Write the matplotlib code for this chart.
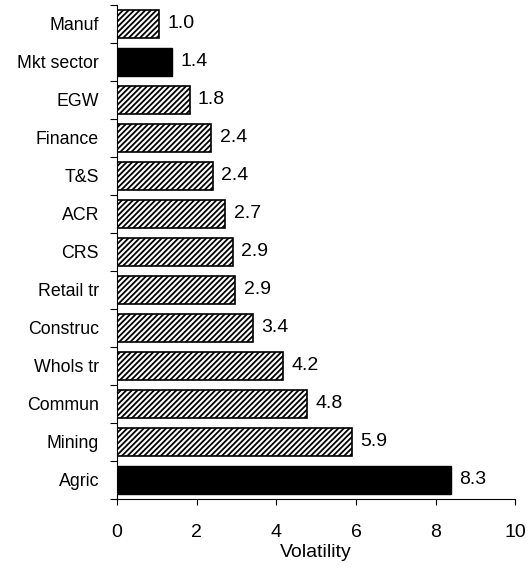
import numpy as np
import matplotlib
matplotlib.use("Agg")
import matplotlib.pyplot as plt

plt.rcParams['font.family'] = ['Liberation Sans', 'DejaVu Sans']
plt.rcParams['hatch.linewidth'] = 1.3

sectors = ['Manuf', 'Mkt sector', 'EGW', 'Finance', 'T&S', 'ACR', 'CRS',
           'Retail tr', 'Construc', 'Whols tr', 'Commun', 'Mining', 'Agric']
volatility = [1.05, 1.38, 1.82, 2.37, 2.41, 2.72, 2.91, 2.97, 3.41, 4.17, 4.77, 5.91, 8.38]
value_labels = ['1.0', '1.4', '1.8', '2.4', '2.4', '2.7', '2.9',
                '2.9', '3.4', '4.2', '4.8', '5.9', '8.3']
solid = ['Mkt sector', 'Agric']

fig = plt.figure(figsize=(5.3, 5.68), dpi=100)
ax = fig.add_axes([0.221, 0.1215, 0.751, 0.870])

y = np.arange(len(sectors))
for i, (name, v) in enumerate(zip(sectors, volatility)):
    if name in solid:
        ax.barh(i, v, height=0.73, color='black', edgecolor='black', linewidth=1)
    else:
        ax.barh(i, v, height=0.73, color='white', edgecolor='black',
                hatch='//////', linewidth=1.2)
    ax.annotate(value_labels[i], (v, i), xytext=(6, 0), textcoords='offset points',
                va='center', ha='left', fontsize=14)

ax.set_ylim(len(sectors) - 0.5, -0.5)
ax.set_xlim(0, 10)
ax.set_xticks(np.arange(0, 11, 2))
ax.tick_params(axis='x', direction='out', length=4, labelsize=14, pad=14)

# tick marks between categories, labels at centres
ax.set_yticks(np.arange(-0.5, len(sectors), 1))
ax.set_yticklabels([])
ax.tick_params(axis='y', which='major', direction='out', length=5)
ax.set_yticks(y, minor=True)
ax.set_yticklabels(sectors, minor=True)
ax.tick_params(axis='y', which='minor', length=0, labelsize=12.8, pad=13)

ax.set_xlabel('Volatility', fontsize=14, labelpad=2)

ax.spines['top'].set_visible(False)
ax.spines['right'].set_visible(False)

fig.savefig('out.png', dpi=100)
